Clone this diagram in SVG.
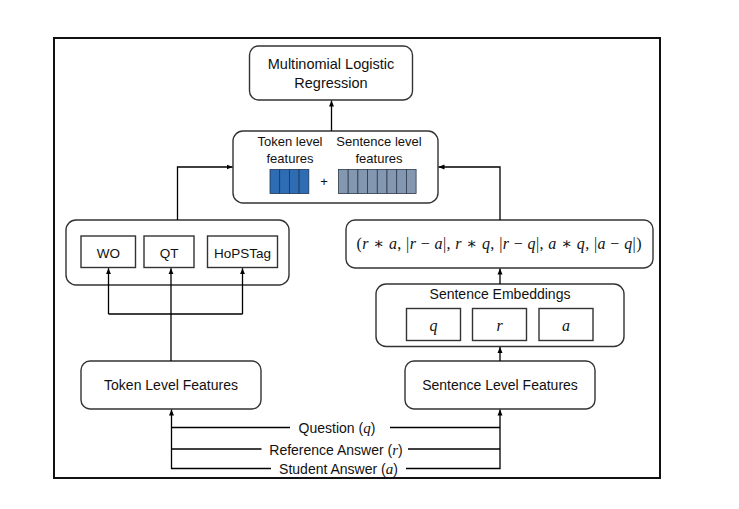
<svg xmlns="http://www.w3.org/2000/svg" width="739" height="509" viewBox="0 0 739 509">
<defs>
<marker id="ah" viewBox="0 0 6 6" refX="6" refY="3" markerWidth="6" markerHeight="6" markerUnits="userSpaceOnUse" orient="auto">
<path d="M0,0.5 L6,3 L0,5.5 z" fill="#000"/>
</marker>
<style>
.rbox{fill:#fff;stroke:#333;stroke-width:1.4}
.sbox{fill:#fff;stroke:#333;stroke-width:1.4}
.t{font-family:"Liberation Sans",Arial,sans-serif;fill:#111;text-anchor:middle}
.m{font-family:"Liberation Serif","DejaVu Serif",serif;fill:#111;text-anchor:middle}
.i{font-style:italic}
.ln{fill:none;stroke:#000;stroke-width:1.3}
.tk{fill:#2E6DB4;stroke:#1f3550;stroke-width:0.8}
.st{fill:#8497B0;stroke:#2d3a4a;stroke-width:0.8}
</style>
</defs>
<rect x="0" y="0" width="739" height="509" fill="#fff"/>
<rect id="frame" x="54" y="38" width="606" height="440" fill="none" stroke="#111" stroke-width="2"/>

<g id="mlr">
<rect class="rbox" x="249.5" y="46" width="163" height="54" rx="9"/>
<text class="t" x="331" y="69" font-size="14.5">Multinomial Logistic</text>
<text class="t" x="331" y="88" font-size="14.5">Regression</text>
</g>

<g id="features">
<rect class="rbox" x="233" y="131" width="205" height="72" rx="10"/>
<text class="t" x="290" y="146" font-size="13">Token level</text>
<text class="t" x="290" y="163" font-size="13">features</text>
<text class="t" x="379" y="146" font-size="13">Sentence level</text>
<text class="t" x="379" y="163" font-size="13">features</text>
<rect class="tk" x="270" y="169.5" width="9.7" height="24"/>
<rect class="tk" x="279.7" y="169.5" width="9.7" height="24"/>
<rect class="tk" x="289.4" y="169.5" width="9.7" height="24"/>
<rect class="tk" x="299.1" y="169.5" width="9.7" height="24"/>
<text class="t" x="324" y="186" font-size="13">+</text>
<rect class="st" x="338.5" y="169.5" width="9.7" height="24"/>
<rect class="st" x="348.2" y="169.5" width="9.7" height="24"/>
<rect class="st" x="357.9" y="169.5" width="9.7" height="24"/>
<rect class="st" x="367.6" y="169.5" width="9.7" height="24"/>
<rect class="st" x="377.3" y="169.5" width="9.7" height="24"/>
<rect class="st" x="387" y="169.5" width="9.7" height="24"/>
<rect class="st" x="396.7" y="169.5" width="9.7" height="24"/>
<rect class="st" x="406.4" y="169.5" width="9.7" height="24"/>
</g>

<g id="token-group">
<rect class="rbox" x="66" y="220" width="223" height="65" rx="10"/>
</g>
<g id="wo">
<rect class="sbox" x="81" y="236" width="54.5" height="31.5"/>
<text class="t" x="108.3" y="258" font-size="13.5">WO</text>
</g>
<g id="qt">
<rect class="sbox" x="144" y="236" width="50" height="31.5"/>
<text class="t" x="169" y="258" font-size="13.5">QT</text>
</g>
<g id="hopstag">
<rect class="sbox" x="207.5" y="236" width="70" height="31.5"/>
<text class="t" x="242.5" y="258" font-size="13.5">HoPSTag</text>
</g>

<g id="token-level">
<rect class="rbox" x="81" y="361" width="180" height="48" rx="9"/>
<text class="t" x="171" y="390" font-size="14">Token Level Features</text>
</g>

<g id="equation">
<rect class="rbox" x="346" y="220" width="307" height="48" rx="9"/>
<text class="m" x="499" y="249" font-size="16" textLength="285" lengthAdjust="spacing">(<tspan class="i">r</tspan> ∗ <tspan class="i">a</tspan>, |<tspan class="i">r</tspan> − <tspan class="i">a</tspan>|, <tspan class="i">r</tspan> ∗ <tspan class="i">q</tspan>, |<tspan class="i">r</tspan> − <tspan class="i">q</tspan>|, <tspan class="i">a</tspan> ∗ <tspan class="i">q</tspan>, |<tspan class="i">a</tspan> − <tspan class="i">q</tspan>|)</text>
</g>

<g id="sentence-embeddings">
<rect class="rbox" x="376" y="284" width="248" height="62.5" rx="10"/>
<text class="t" x="500" y="299" font-size="14">Sentence Embeddings</text>
<rect class="sbox" x="406.5" y="308.5" width="54" height="32"/>
<text class="m i" x="433.5" y="331" font-size="16">q</text>
<rect class="sbox" x="472.5" y="308.5" width="54" height="32"/>
<text class="m i" x="499.5" y="331" font-size="16">r</text>
<rect class="sbox" x="539" y="308.5" width="54" height="32"/>
<text class="m i" x="566" y="331" font-size="16">a</text>
</g>

<g id="sentence-level">
<rect class="rbox" x="405" y="361" width="190" height="48" rx="9"/>
<text class="t" x="500" y="390" font-size="14">Sentence Level Features</text>
</g>

<g id="connectors">
<line class="ln" x1="331.5" y1="131" x2="331.5" y2="100.5" marker-end="url(#ah)"/>
<polyline class="ln" points="177.5,220 177.5,167 232.5,167" marker-end="url(#ah)"/>
<polyline class="ln" points="500,220 500,167 438.5,167" marker-end="url(#ah)"/>
<polyline class="ln" points="108.5,314 108.5,268.2" marker-end="url(#ah)"/>
<polyline class="ln" points="242.5,314 242.5,268.2" marker-end="url(#ah)"/>
<line class="ln" x1="108.5" y1="314" x2="242.5" y2="314"/>
<line class="ln" x1="171" y1="361" x2="171" y2="268.2" marker-end="url(#ah)"/>
<line class="ln" x1="500" y1="284" x2="500" y2="268.5" marker-end="url(#ah)"/>
<line class="ln" x1="500" y1="361" x2="500" y2="347" marker-end="url(#ah)"/>
<polyline class="ln" points="271,468.5 171.5,468.5 171.5,409.5" marker-end="url(#ah)"/>
<polyline class="ln" points="406,468.5 500,468.5 500,409.5" marker-end="url(#ah)"/>
<line class="ln" x1="171.5" y1="427.5" x2="290" y2="427.5"/>
<line class="ln" x1="390" y1="427.5" x2="500" y2="427.5"/>
<line class="ln" x1="171.5" y1="449" x2="261.5" y2="449"/>
<line class="ln" x1="408" y1="449" x2="500" y2="449"/>
<text class="t" x="337" y="433" font-size="14">Question (<tspan class="m i" font-size="15">q</tspan>)</text>
<text class="t" x="336" y="455" font-size="14">Reference Answer (<tspan class="m i" font-size="15">r</tspan>)</text>
<text class="t" x="338.5" y="474" font-size="14">Student Answer (<tspan class="m i" font-size="15">a</tspan>)</text>
</g>
</svg>
